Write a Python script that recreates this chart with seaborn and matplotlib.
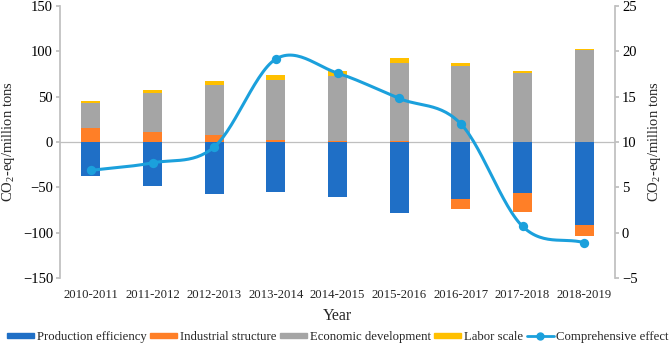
import numpy as np
import pandas as pd
import matplotlib
matplotlib.use("Agg")
import matplotlib.pyplot as plt
import seaborn as sns
from matplotlib.patches import Patch
from matplotlib.lines import Line2D

years = ["2010-2011", "2011-2012", "2012-2013", "2013-2014", "2014-2015",
         "2015-2016", "2016-2017", "2017-2018", "2018-2019"]
production_efficiency = [-37.6, -48.7, -57.9, -54.9, -60.4, -77.8, -63.4, -55.7, -91.4]
industrial_structure = [15.5, 10.7, 7.4, 2.6, 1.0, 1.5, -11.0, -21.3, -12.6]
economic_development = [27.0, 43.2, 55.0, 65.3, 71.5, 86.0, 84.1, 76.0, 101.5]
labor_scale = [2.5, 3.0, 5.0, 5.9, 5.5, 5.5, 2.6, 2.3, 1.5]
comprehensive_effect = [6.87, 7.7, 9.45, 19.15, 17.6, 14.8, 12.0, 0.7, -1.1]

c_blue = "#1F6FC6"
c_orange = "#FF7F27"
c_gray = "#A5A5A5"
c_yellow = "#FFC000"
c_line = "#1BA0DC"

sns.set_theme(style="white")
plt.rcParams["font.family"] = ["Liberation Serif", "DejaVu Serif"]
plt.rcParams["mathtext.fontset"] = "stix"

pe = np.array(production_efficiency)
ind = np.array(industrial_structure)
eco = np.array(economic_development)
lab = np.array(labor_scale)

orange_pos = np.clip(ind, 0, None)
orange_neg = np.clip(ind, None, 0)
gray_top = orange_pos + eco
yellow_top = gray_top + lab
neg_total = pe + orange_neg

fig = plt.figure(figsize=(6.71, 3.43), dpi=100)
ax = fig.add_axes([60/671, 1 - 278/343, (615-60)/671, (278-6)/343])

W = 0.31
layers = [(yellow_top, c_yellow), (gray_top, c_gray), (orange_pos, c_orange),
          (neg_total, c_orange), (pe, c_blue)]
for vals, col in layers:
    df = pd.DataFrame({"year": years, "v": vals})
    sns.barplot(data=df, x="year", y="v", color=col, width=W, linewidth=0,
                saturation=1, ax=ax, errorbar=None)

ax.set_xlim(-0.5, 8.5)
ax.set_ylim(-150, 150)
ax.set_yticks([-150, -100, -50, 0, 50, 100, 150])
ax.axhline(0, color="#BFBFBF", lw=0.9, zorder=0.5)
for s in ["top", "bottom"]:
    ax.spines[s].set_visible(False)
ax.spines["left"].set_color("#BFBFBF")
ax.spines["right"].set_visible(False)
ax.tick_params(axis="y", labelsize=10.5, length=3, color="#BFBFBF", direction="out", pad=2, labelcolor="black")
ax.tick_params(axis="x", labelsize=9.2, length=0, pad=8)
ax.set_xlabel("Year", fontsize=11.5, labelpad=5)
ax.set_ylabel("CO$_\\mathregular{2}$-eq/million tons", fontsize=10.5, labelpad=4)

ax2 = ax.twinx()
ax2.set_ylim(-5, 25)
ax2.set_yticks([-5, 0, 5, 10, 15, 20, 25])
for s in ["top", "bottom", "left"]:
    ax2.spines[s].set_visible(False)
ax2.spines["right"].set_color("#BFBFBF")
ax2.tick_params(axis="y", labelsize=10.5, length=3, color="#BFBFBF", pad=2, labelcolor="black")
ax2.set_ylabel("CO$_\\mathregular{2}$-eq/million tons", fontsize=10.5, labelpad=6)

# smooth curve (Catmull-Rom, like Excel smoothed line) through the data points
xs = np.arange(len(years), dtype=float)
ys = np.array(comprehensive_effect)
px = np.concatenate([[2*xs[0]-xs[1]], xs, [2*xs[-1]-xs[-2]]])
py = np.concatenate([[2*ys[0]-ys[1]], ys, [2*ys[-1]-ys[-2]]])
cx, cy = [], []
t = np.linspace(0, 1, 30)
for i in range(1, len(px) - 2):
    p0, p1, p2, p3 = (np.array([px[j], py[j]]) for j in (i-1, i, i+1, i+2))
    tau = 0.5
    m1 = tau * (p2 - p0)
    m2 = tau * (p3 - p1)
    h00 = 2*t**3 - 3*t**2 + 1
    h10 = t**3 - 2*t**2 + t
    h01 = -2*t**3 + 3*t**2
    h11 = t**3 - t**2
    seg = (h00[:, None]*p1 + h10[:, None]*m1 + h01[:, None]*p2 + h11[:, None]*m2)
    cx.extend(seg[:, 0]); cy.extend(seg[:, 1])
ax2.plot(cx, cy, color=c_line, lw=2.2, zorder=3)
sns.scatterplot(x=xs, y=ys, color=c_line, s=45, edgecolor=c_line, linewidth=0, ax=ax2, zorder=4)

handles = [Patch(color=c_blue), Patch(color=c_orange), Patch(color=c_gray), Patch(color=c_yellow),
           Line2D([0], [0], color=c_line, lw=2, marker="o", markersize=5)]
labels = ["Production efficiency", "Industrial structure", "Economic development",
          "Labor scale", "Comprehensive effect"]
fig.legend(handles, labels, loc="center", bbox_to_anchor=(338/671, 1 - 337/343), ncol=5,
           frameon=False, fontsize=9.2, handlelength=2.1, handleheight=0.3,
           handletextpad=0.2, columnspacing=0.3, borderpad=0, borderaxespad=0)

fig.savefig("out.png", dpi=100)
